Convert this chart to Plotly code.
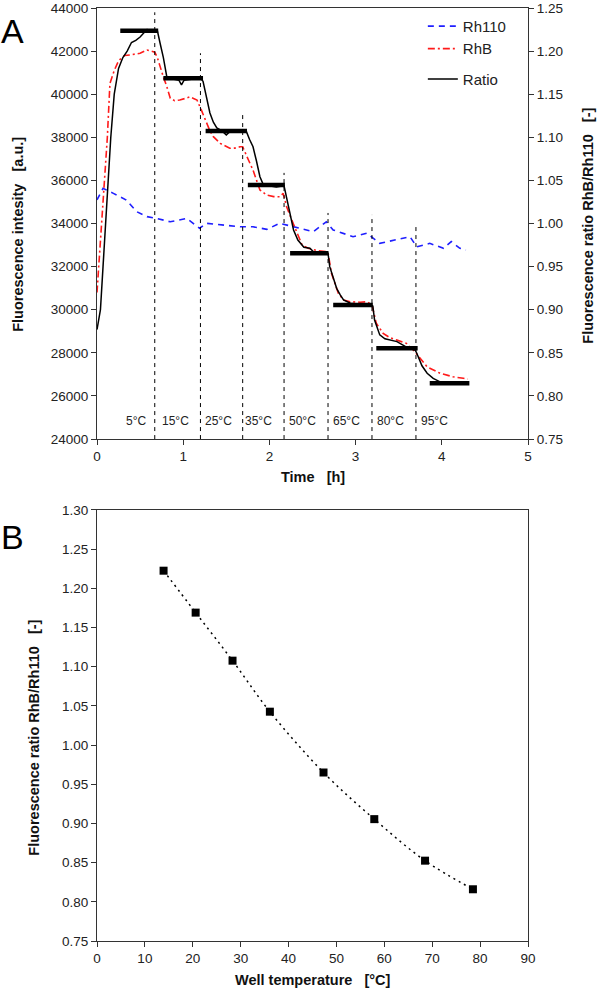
import plotly.graph_objects as go

# ---- panel A: time courses ----
rh110_t = [0, 0.07, 0.19, 0.34, 0.46, 0.58, 0.69, 0.85, 1.04, 1.19, 1.27, 1.50, 1.66, 1.81, 1.97,
           2.12, 2.28, 2.35, 2.51, 2.66, 2.74, 2.97, 3.13, 3.28, 3.52, 3.63, 3.71, 3.86, 4.02,
           4.11, 4.21, 4.28]
rh110 = [35100, 35630, 35400, 35090, 34550, 34320, 34240, 34080, 34240, 33780, 34010, 33930,
         33850, 33850, 33730, 34010, 33850, 33800, 33620, 34080, 33700, 33390, 33550, 33080,
         33310, 33390, 32920, 33080, 32850, 33160, 32850, 32770]

rhb_t = [0, 0.02, 0.05, 0.09, 0.12, 0.15, 0.20, 0.25, 0.32, 0.38, 0.45, 0.50, 0.58, 0.67, 0.70,
         0.73, 0.77, 0.81, 0.85, 0.90, 0.96, 1.02, 1.08, 1.12, 1.16, 1.21, 1.27, 1.31, 1.35,
         1.43, 1.54, 1.60, 1.66, 1.69, 1.74, 1.81, 1.89, 1.97, 2.05, 2.12, 2.16, 2.20, 2.26,
         2.32, 2.38, 2.45, 2.55, 2.65, 2.68, 2.72, 2.80, 2.86, 2.94, 3.05, 3.13, 3.19, 3.24,
         3.32, 3.40, 3.48, 3.59, 3.67, 3.73, 3.83, 3.98, 4.13, 4.25, 4.30]
rhb = [30800, 32000, 34000, 36000, 38000, 40500, 41100, 41550, 41800, 41820, 41850, 41900,
       42050, 41950, 41700, 41280, 40800, 40350, 39810, 39700, 39730, 39800, 39880, 39800,
       39730, 39270, 38650, 38300, 38030, 37720, 37490, 37500, 37560, 37560, 37100, 36480,
       35560, 35320, 35250, 35240, 35400, 34780, 34160, 33550, 33000, 32850, 32750, 32700,
       32650, 31690, 30760, 30450, 30370, 30350, 30370, 30220, 29370, 28900, 28700, 28590,
       28440, 28130, 27820, 27350, 27050, 26890, 26820, 26780]

ratio_t = [0, 0.04, 0.07, 0.10, 0.13, 0.16, 0.20, 0.25, 0.30, 0.35, 0.40, 0.45, 0.50, 0.55,
           0.58, 0.65, 0.70, 0.73, 0.77, 0.81, 0.88, 0.95, 0.98, 1.01, 1.10, 1.20, 1.23, 1.27,
           1.31, 1.35, 1.39, 1.45, 1.50, 1.55, 1.65, 1.73, 1.77, 1.81, 1.85, 1.89, 1.93, 2.00,
           2.08, 2.17, 2.20, 2.24, 2.28, 2.33, 2.40, 2.47, 2.52, 2.60, 2.68, 2.70, 2.74, 2.78,
           2.82, 2.86, 2.94, 3.05, 3.15, 3.20, 3.22, 3.28, 3.34, 3.40, 3.48, 3.55, 3.62, 3.69,
           3.71, 3.77, 3.83, 3.90, 3.98, 4.10, 4.20, 4.30]
ratio = [0.877, 0.900, 0.950, 1.000, 1.050, 1.100, 1.150, 1.180, 1.1925, 1.200, 1.210, 1.2125,
         1.2163, 1.2213, 1.225, 1.2238, 1.2238, 1.210, 1.1925, 1.170, 1.1675, 1.1663, 1.1608,
         1.1663, 1.1675, 1.1688, 1.165, 1.145, 1.1283, 1.1175, 1.1108, 1.1075, 1.1028, 1.1075,
         1.1075, 1.1075, 1.0975, 1.089, 1.0725, 1.0543, 1.0448, 1.0438, 1.0425, 1.0438, 1.030,
         1.0078, 0.9925, 0.9808, 0.9725, 0.9713, 0.9663, 0.9655, 0.9655, 0.950, 0.9375,
         0.9248, 0.9175, 0.9113, 0.9075, 0.9063, 0.9063, 0.9043, 0.888, 0.8708, 0.8663,
         0.8648, 0.863, 0.859, 0.855, 0.8533, 0.8495, 0.835, 0.8263, 0.8203, 0.8163, 0.815,
         0.8145, 0.815]

# averaged ratio plateaus (start, end, level)
plateau_start = [0.27, 0.77, 1.26, 1.75, 2.24, 2.74, 3.24, 3.86]
plateau_end = [0.71, 1.23, 1.74, 2.18, 2.68, 3.20, 3.72, 4.32]
plateau_level = [1.2237, 1.1684, 1.1073, 1.0447, 0.9654, 0.9055, 0.8552, 0.8146]

# temperature step boundaries and labels
step_t = [0.67, 1.20, 1.69, 2.17, 2.68, 3.19, 3.70]
step_top = [43800, 41900, 39100, 36350, 34490, 34400, 33980]
temp_label = ["5°C", "15°C", "25°C", "35°C", "50°C", "65°C", "80°C", "95°C"]
temp_label_t = [0.45, 0.91, 1.41, 1.87, 2.38, 2.90, 3.40, 3.91]

# ---- panel B: calibration ----
well_temp = [13.9, 20.6, 28.3, 36.1, 47.3, 57.9, 68.5, 78.5]
well_ratio = [1.2225, 1.169, 1.1077, 1.0426, 0.965, 0.9055, 0.8525, 0.816]

FONT = "Liberation Sans, Arial, sans-serif"
AX = "#333333"

fig = go.Figure()

fig.add_trace(go.Scatter(x=rh110_t, y=rh110, mode="lines", name="Rh110",
                         line=dict(color="#1f1fff", width=1.6, dash="6px,5px"),
                         legendgroup="dyes", xaxis="x", yaxis="y"))
fig.add_trace(go.Scatter(x=rhb_t, y=rhb, mode="lines", name="RhB",
                         line=dict(color="#ff1a1a", width=1.6, dash="7px,3px,2px,3px"),
                         legendgroup="dyes", xaxis="x", yaxis="y"))
fig.add_trace(go.Scatter(x=ratio_t, y=ratio, mode="lines", name="Ratio",
                         line=dict(color="black", width=1.5),
                         legendgroup="ratio", xaxis="x", yaxis="y2"))

px, py = [], []
for a, b, lv in zip(plateau_start, plateau_end, plateau_level):
    px += [a, b, None]
    py += [lv, lv, None]
fig.add_trace(go.Scatter(x=px, y=py, mode="lines", showlegend=False,
                         line=dict(color="black", width=4.5), xaxis="x", yaxis="y2"))

vx, vy = [], []
for t, top in zip(step_t, step_top):
    vx += [t, t, None]
    vy += [24000, top, None]
fig.add_trace(go.Scatter(x=vx, y=vy, mode="lines", showlegend=False,
                         line=dict(color="black", width=1, dash="4px,4px"),
                         xaxis="x", yaxis="y"))

fig.add_trace(go.Scatter(x=well_temp, y=well_ratio, mode="lines+markers", showlegend=False,
                         line=dict(color="black", width=1.5, dash="2px,4px", shape="spline"),
                         marker=dict(symbol="square", size=8, color="black"),
                         xaxis="x2", yaxis="y3"))

for lab, t in zip(temp_label, temp_label_t):
    fig.add_annotation(x=t, y=24850, xref="x", yref="y", text=lab, showarrow=False,
                       font=dict(size=12, color="#222"), xanchor="center", yanchor="middle")

axis_common = dict(showline=True, linecolor=AX, linewidth=1.2, ticks="outside",
                   ticklen=5, tickcolor=AX, showgrid=False, zeroline=False,
                   automargin=False,
                   tickfont=dict(size=13.5, color="#222", family=FONT))

fig.update_layout(
    width=600, height=992,
    margin=dict(l=97, r=72, t=8, b=51),
    paper_bgcolor="white", plot_bgcolor="white",
    font=dict(family=FONT, color="#111"),
    xaxis=dict(domain=[0, 1], anchor="y", range=[0, 5], dtick=1, mirror=True, **axis_common),
    yaxis=dict(domain=[0.538, 1], anchor="x", range=[24000, 44000], dtick=2000,
               tickformat="d", **axis_common),
    yaxis2=dict(overlaying="y", side="right", anchor="x", range=[0.75, 1.25], dtick=0.05,
                tickformat=".2f", **axis_common),
    xaxis2=dict(domain=[0, 1], anchor="y3", range=[0, 90], dtick=10, mirror=True,
                **axis_common),
    yaxis3=dict(domain=[0, 0.462], anchor="x2", range=[0.75, 1.30], dtick=0.05,
                tickformat=".2f", mirror=True, **axis_common),
    legend=dict(x=0.756, y=0.998, xanchor="left", yanchor="top", bgcolor="rgba(0,0,0,0)",
                traceorder="grouped", tracegroupgap=8,
                font=dict(size=15, color="#222", family=FONT)),
    showlegend=True,
)

titles = [
    ("Fluorescence intesity\u00a0\u00a0\u00a0[a.u.]", -0.183, 0.757, -90),
    ("Fluorescence ratio RhB/Rh110\u00a0\u00a0\u00a0[-]", 1.14, 0.767, -90),
    ("Time\u00a0\u00a0\u00a0[h]", 0.5, 0.497, 0),
    ("Fluorescence ratio RhB/Rh110\u00a0\u00a0\u00a0[-]", -0.146, 0.218, -90),
    ("Well temperature\u00a0\u00a0\u00a0[°C]", 0.502, -0.042, 0),
]
for txt, x, y, ang in titles:
    fig.add_annotation(x=x, y=y, xref="paper", yref="paper", text="<b>" + txt + "</b>",
                       showarrow=False, textangle=ang, xanchor="center", yanchor="middle",
                       font=dict(size=14.5, color="#111", family=FONT))

for letter, y in [("A", 0.9753), ("B", 0.433)]:
    fig.add_annotation(x=-0.195, y=y, xref="paper", yref="paper", text=letter,
                       showarrow=False, xanchor="center", yanchor="middle",
                       font=dict(size=34, color="black", family=FONT))

# the page's default 8px body margin would shift the whole figure
fig.write_html("out.html", config={"displayModeBar": False},
               post_script="document.body.style.margin='0px';")
